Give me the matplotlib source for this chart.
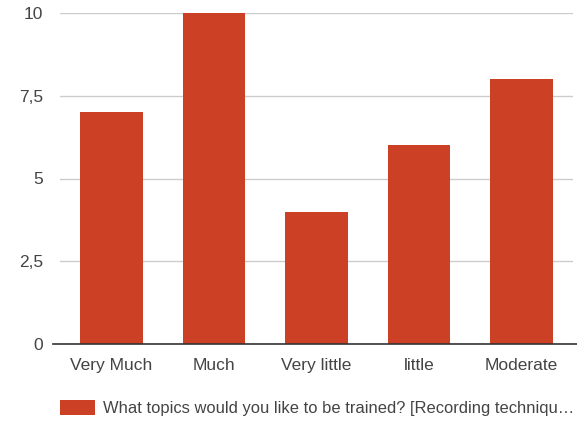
import matplotlib
matplotlib.use("Agg")
import matplotlib.pyplot as plt

categories = ["Very Much", "Much", "Very little", "little", "Moderate"]
counts = [7, 10, 4, 6, 8]
y_ticks = [0, 2.5, 5, 7.5, 10]
y_tick_labels = ["0", "2,5", "5", "7,5", "10"]
series_name = "What topics would you like to be trained? [Recording techniqu\u2026"

BAR = "#cc4125"
TEXT = "#444444"

plt.rcParams["font.family"] = ["Liberation Sans", "DejaVu Sans"]

fig = plt.figure(figsize=(5.77, 4.21), dpi=100)
ax = fig.add_axes([60 / 577, 1 - 344 / 421, 513 / 577, 331 / 421])

x = range(len(categories))
bars = ax.bar(x, counts, width=0.61, color=BAR, label=series_name, zorder=3)

ax.set_xlim(-0.5, len(categories) - 0.5)
ax.set_ylim(0, 10)
ax.set_yticks(y_ticks)
ax.set_yticklabels(y_tick_labels)
ax.set_xticks(list(x))
ax.set_xticklabels(categories)
ax.tick_params(length=0, labelsize=12.5, colors=TEXT)
ax.tick_params(axis="y", pad=12)
ax.tick_params(axis="x", pad=10)

ax.grid(axis="y", color="#cccccc", lw=1, zorder=0)
for s in ax.spines.values():
    s.set_visible(False)
ax.axhline(0, xmin=-0.014, xmax=1.01, color="#333333", lw=1.2, clip_on=False, zorder=4)

fig.legend(handles=[bars], labels=[series_name], loc="lower left",
           bbox_to_anchor=(45 / 577, -10 / 421), frameon=False, fontsize=11.9,
           handlelength=2.1, handleheight=1.0, handletextpad=0.5,
           labelcolor=TEXT)

fig.savefig("out.png", dpi=100)
